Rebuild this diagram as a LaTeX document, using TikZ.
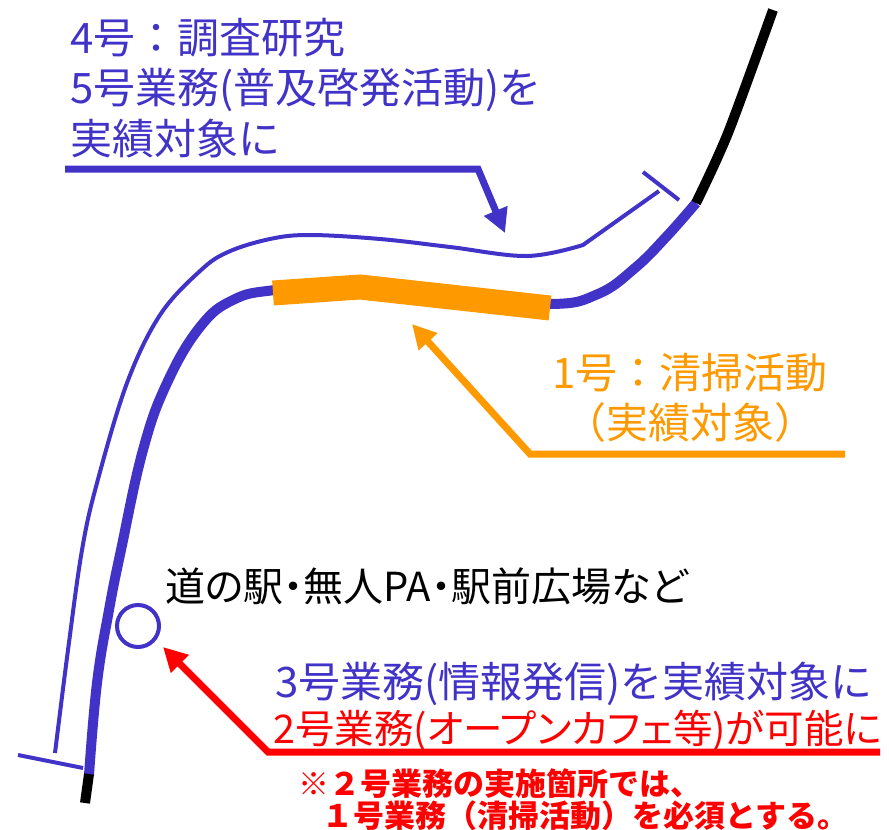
\documentclass[tikz,border=0pt]{standalone}
\usepackage{fontspec}
\setmainfont{Noto Sans CJK JP}
\newfontfamily\prop{Noto Sans CJK JP}[RawFeature=+palt]
\usepackage{tikz}
\usetikzlibrary{arrows.meta}

\definecolor{blu}{RGB}{66,51,200}
\definecolor{arancio}{RGB}{255,153,0}
\definecolor{rosso}{RGB}{255,0,0}

\begin{document}
\begin{tikzpicture}[x=1pt,y=-1pt]
\tikzstyle{strada} = [blu, line width=10pt]
\tikzstyle{bordo} = [blu, line width=4pt]
\tikzstyle{freccia} = [line width=7pt, -{Triangle[length=24pt,width=24pt]}]
\tikzstyle{grande} = [font=\fontsize{42}{50}\selectfont, inner sep=0, anchor=base west]
\tikzstyle{nota} = [rosso, font=\fontsize{31}{36}\selectfont\bfseries, inner sep=0, anchor=base west]

\useasboundingbox (0,0) rectangle (889,830);

% Bordo sottile
\draw[bordo] plot[smooth, tension=0.6] coordinates {(55,753) (68,650) (82,550) (97,483) (127,383) (160,315) (200,271) (228,252) (270,239) (310,235) (380,239) (450,247) (527,256) (583,245)} -- (659,191);
\draw[bordo] (18,755) -- (83,768);
\draw[bordo] (643,172) -- (679,200);

% Strada
\draw[strada] plot[smooth, tension=0.7] coordinates {(89,775) (97,683) (109,610) (121,550) (143,450) (167,383) (200,327) (233,300) (275,290) (360,284) (450,296) (550,304) (598,294) (635,268) (667,236) (696,203)};
\draw[arancio, line width=25pt] (273,293) -- (360,287) -- (550,308);
\draw[line width=10pt] plot[smooth] coordinates {(696,203) (728,133) (773,10)};
\draw[line width=10pt] (89,774) -- (85,803);

% Punto
\node[circle, draw=blu, line width=4pt, minimum size=42pt, inner sep=0] (pa) at (138,626) {};

% Testi
\node[grande, blu] (l4) at (70,53) {4号：調査研究};
\node[grande, blu] (l5) at (70,103) {5号業務(普及啓発活動)を};
\node[grande, blu] (l5b) at (70,154) {実績対象に};

\node[grande, arancio, anchor=base] (l1) at (690,388) {1号：清掃活動};
\node[grande, arancio, anchor=base] (l1b) at (690,438) {（実績対象）};

\node[font=\fontsize{40}{48}\selectfont\prop, inner sep=0, anchor=base west] (staz) at (165,601) {道の駅・無人PA・駅前広場など};

\node[grande, blu] (l3) at (275,697) {3号業務(情報発信)を実績対象に};
\node[grande, rosso, font=\fontsize{39.5}{50}\selectfont\prop] (l2) at (273,743) {2号業務(オープンカフェ等)が可能に};

\node[nota] (n1) at (298,795) {※２号業務の実施箇所では、};
\node[nota] (n2) at (322,827) {１号業務（清掃活動）を必須とする。};

% Frecce
\coordinate (a4) at (65,169);
\coordinate (g4) at (478,169);
\coordinate (p4) at (505,233);
\draw[freccia, blu] (a4) -- (g4) -- (p4);

\coordinate (a1) at (845,454);
\coordinate (g1) at (530,454);
\coordinate (p1) at (412,324);
\draw[freccia, arancio] (a1) -- (g1) -- (p1);

\coordinate (a2) at (880,752);
\coordinate (g2) at (268,752);
\coordinate (p2) at (163,647);
\draw[freccia, rosso] (a2) -- (g2) -- (p2);

\end{tikzpicture}
\end{document}
